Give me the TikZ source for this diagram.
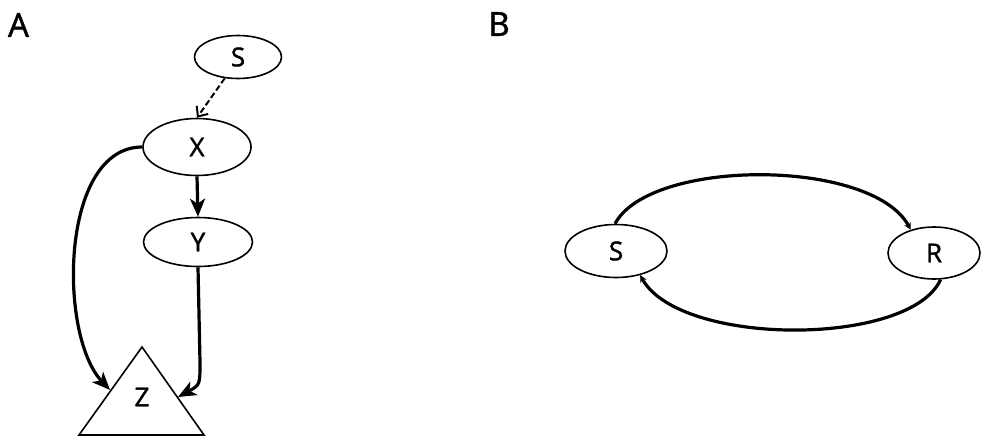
\documentclass[tikz,border=0pt]{standalone}
\usepackage{fontspec}
\setmainfont{Open Sans}[FakeBold=1.2]
\newfontfamily\lblfont{Open Sans}[FakeBold=1.5]
\usetikzlibrary{shapes.geometric,arrows.meta}
\begin{document}
\begin{tikzpicture}[x=1pt,y=-1pt,
  vnode/.style={ellipse,draw,line width=1.6pt,fill=white,inner sep=0pt,font=\lblfont\fontsize{26}{28}\selectfont},
  plabel/.style={inner sep=0pt,font=\lblfont\fontsize{33}{36}\selectfont},
  thickarrow/.style={line width=3.2pt,-{Stealth[length=18pt,width=15pt,inset=5pt]}},
  dasharrow/.style={line width=2pt,dashed,dash pattern=on 6pt off 3pt,-{Straight Barb[length=8pt,width=14pt,line width=2pt]}},
  looparrow/.style={line width=3.2pt,-{Stealth[length=7pt,width=7pt]}}]
\useasboundingbox (0,0) rectangle (981,437);
% Panel A
\node[plabel] (lA) at (18.5,25) {A};
\node[vnode,minimum width=87pt,minimum height=43pt] (sA) at (238,57) {S};
\node[vnode,minimum width=108pt,minimum height=57pt] (xA) at (197,147) {X};
\node[vnode,minimum width=109pt,minimum height=49pt] (yA) at (198,242) {Y};
\coordinate (zt) at (142,347);
\coordinate (zbl) at (79,435);
\coordinate (zbr) at (204,435);
\draw[line width=1.6pt,line join=miter] (zt) -- (zbl) -- (zbr) -- cycle;
\node[inner sep=0pt,font=\lblfont\fontsize{26}{28}\selectfont] (zA) at (142,397) {Z};
\coordinate (zl) at (110,390);
\coordinate (zr) at (178,397);
\draw[dasharrow] (sA.-122) -- (xA.north);
\draw[thickarrow] (xA.south) -- (yA.north);
\draw[thickarrow] (xA.west) .. controls (60,147) and (58,335) .. (zl);
\draw[thickarrow] (yA.south) -- (200,362) .. controls (200,385) .. (zr);
% Panel B
\node[plabel] (lB) at (499,24) {B};
\node[vnode,minimum width=102pt,minimum height=53pt] (sB) at (616,251) {S};
\node[vnode,minimum width=92pt,minimum height=52pt] (rB) at (934,253) {R};
\draw[looparrow] (sB.92) .. controls (650,158) and (872,158) .. (rB.135);
\draw[looparrow] (rB.-76) .. controls (910,347) and (680,347) .. (sB.-45);
\end{tikzpicture}
\end{document}
